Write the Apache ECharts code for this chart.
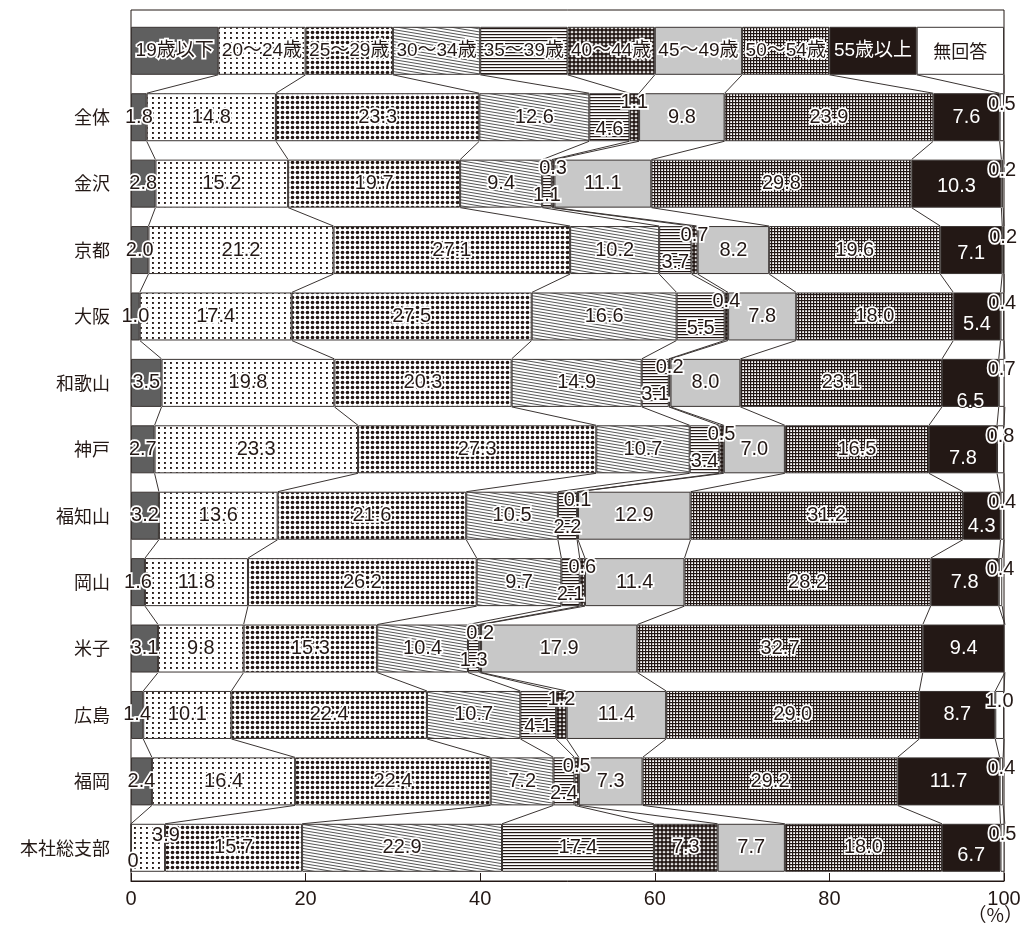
<!DOCTYPE html>
<html><head><meta charset="utf-8">
<script src="https://cdn.jsdelivr.net/npm/echarts@6/dist/echarts.min.js"></script>
<style>html,body{margin:0;padding:0;background:#fff}#c{width:1026px;height:938px}</style>
</head><body><div id="c"></div>
<script>
// ---------------- data ----------------
const categories = ['全体','金沢','京都','大阪','和歌山','神戸','福知山','岡山','米子','広島','福岡','本社総支部'];
const seriesNames = ['19歳以下','20～24歳','25～29歳','30～34歳','35～39歳','40～44歳','45～49歳','50～54歳','55歳以上','無回答'];
const age19    = [1.8, 2.8, 2.0, 1.0, 3.5, 2.7, 3.2, 1.6, 3.1, 1.4, 2.4, 0];
const age20    = [14.8,15.2,21.2,17.4,19.8,23.3,13.6,11.8, 9.8,10.1,16.4, 3.9];
const age25    = [23.3,19.7,27.1,27.5,20.3,27.3,21.6,26.2,15.3,22.4,22.4,15.7];
const age30    = [12.6, 9.4,10.2,16.6,14.9,10.7,10.5, 9.7,10.4,10.7, 7.2,22.9];
const age35    = [4.6, 1.1, 3.7, 5.5, 3.1, 3.4, 2.2, 2.1, 1.3, 4.1, 2.4,17.4];
const age40    = [1.1, 0.3, 0.7, 0.4, 0.2, 0.5, 0.1, 0.6, 0.2, 1.2, 0.5, 7.3];
const age45    = [9.8,11.1, 8.2, 7.8, 8.0, 7.0,12.9,11.4,17.9,11.4, 7.3, 7.7];
const age50    = [23.9,29.8,19.6,18.0,23.1,16.5,31.2,28.2,32.7,29.0,29.2,18.0];
const age55    = [7.6,10.3, 7.1, 5.4, 6.5, 7.8, 4.3, 7.8, 9.4, 8.7,11.7, 6.7];
const noAnswer = [0.5, 0.2, 0.2, 0.4, 0.7, 0.8, 0.4, 0.4, 0,   1.0, 0.4, 0.5];
const xTickValues = [0, 20, 40, 60, 80, 100];
const unitText = '（%）';
const legendShare = 10; // legend strip: each key drawn as an equal 10% box
const seriesValues = [age19, age20, age25, age30, age35, age40, age45, age50, age55, noAnswer];

// ---------------- styles ----------------
const INK = '#231815';
const LINE = '#3a3432';
function tile(w, h, draw) {
  const c = document.createElement('canvas');
  c.width = w; c.height = h;
  const g = c.getContext('2d');
  g.fillStyle = '#fff'; g.fillRect(0, 0, w, h);
  draw(g);
  return { image: c, repeat: 'repeat' };
}
const fills = [
  '#5f5f5f',
  tile(6, 5, g => { g.fillStyle = INK; g.fillRect(2, 2, 1.9, 1.9); }),
  tile(5, 5, g => { g.fillStyle = INK; g.beginPath(); g.arc(2.5, 2.5, 1.8, 0, Math.PI * 2); g.fill(); }),
  tile(18, 3, g => { g.strokeStyle = '#3f3f3f'; g.lineWidth = 0.9;
    for (const o of [-3, 0, 3]) { g.beginPath(); g.moveTo(0, o); g.lineTo(18, 3 + o); g.stroke(); } }),
  tile(4, 3, g => { g.fillStyle = INK; g.fillRect(0, 1, 4, 1.2); }),
  tile(4, 4, g => { g.fillStyle = INK; g.fillRect(0, 1.5, 4, 1); g.fillRect(1.5, 0, 1, 4);
    g.beginPath(); g.arc(2, 2, 1.85, 0, Math.PI * 2); g.fill(); }),
  '#c8c8c8',
  tile(3, 3, g => { g.fillStyle = INK; g.fillRect(0, 0, 3, 1.2); g.fillRect(0, 0, 1.2, 3); }),
  INK,
  '#ffffff'
];
const rowDy55 = [0, 3, 3, 8, 19, 9, 11, 0, 0, 0, 0, 8];
const NUM_FONT = "'Liberation Sans', Arial, sans-serif";
const JP_FONT = "'Liberation Sans', 'Noto Sans CJK JP', sans-serif";

function makeLabel(s, r, v) {
  const L = {
    show: true, position: 'inside', fontSize: 20, fontFamily: NUM_FONT,
    color: INK, textBorderColor: '#fff', textBorderWidth: 3.5,
    formatter: v === 0 ? '0' : v.toFixed(1)
  };
  if (s === 8) { L.color = '#fff'; L.textBorderColor = INK; L.textBorderWidth = 2; L.offset = [0, rowDy55[r]]; }
  if (s === 9) L.offset = [0, -13];
  if (s === 4 && v < 6) L.offset = [0, 12];
  if (s === 5 && v < 2) L.offset = [0, -15];
  if (r === 11 && s === 0) L.offset = [2, 14];
  if (r === 11 && s === 1) L.offset = [18, -12];
  return L;
}
function legendLabel(s) {
  const L = {
    show: true, position: 'inside', fontSize: 19, fontFamily: JP_FONT,
    color: INK, textBorderColor: '#fff', textBorderWidth: 3.5, formatter: seriesNames[s]
  };
  if (s === 8) { L.color = '#fff'; L.textBorderColor = INK; L.textBorderWidth = 2; }
  if (s === 9) { L.textBorderWidth = 0; L.fontFamily = "'Noto Sans CJK JP', sans-serif"; L.fontSize = 18; }
  return L;
}

// rows: index 0 = legend strip, 1..12 = categories
const rows = [seriesNames.map(() => legendShare)].concat(categories.map((_, r) => seriesValues.map(a => a[r])));
const cums = rows.map(row => { let c = 0; return row.map(v => (c += v)); });
const BAR_W = 48;

const barSeries = seriesNames.map((name, s) => ({
  name, type: 'bar', stack: 'total', xAxisIndex: 1, yAxisIndex: 1,
  barWidth: BAR_W, z: 2,
  itemStyle: { color: fills[s], borderColor: LINE, borderWidth: 1 },
  data: [{ value: legendShare, label: legendLabel(s) }].concat(
    seriesValues[s].map((v, r) => ({ value: v, label: makeLabel(s, r, v) })))
}));

const connectorSeries = {
  type: 'custom', xAxisIndex: 1, yAxisIndex: 1, z: 1, silent: true,
  data: rows.slice(0, -1).map((_, i) => [0, i]),
  encode: { x: 0, y: 1 },
  renderItem(params, api) {
    const i = api.value(1);
    const half = BAR_W / 2;
    return {
      type: 'group',
      children: cums[i].map((cA, j) => {
        const p1 = api.coord([cA, i]);
        const p2 = api.coord([cums[i + 1][j], i + 1]);
        return { type: 'line', shape: { x1: p1[0], y1: p1[1] + half, x2: p2[0], y2: p2[1] - half },
                 style: { stroke: LINE, lineWidth: 1 } };
      })
    };
  }
};

const chart = echarts.init(document.getElementById('c'), null, { renderer: 'canvas' });
chart.setOption({
  animation: false,
  backgroundColor: '#fff',
  title: { text: unitText, right: 3, top: 905, padding: 0,
    textStyle: { fontSize: 19, fontWeight: 'normal', fontFamily: "'Noto Sans CJK JP', sans-serif", color: INK } },
  grid: [
    { left: 131, right: 22, top: 10, bottom: 57, show: true, borderColor: INK, borderWidth: 1,
      backgroundColor: 'transparent', containLabel: false, outerBoundsMode: 'none' },
    { left: 131, right: 22, top: 17.6, bottom: 57, containLabel: false, outerBoundsMode: 'none' }
  ],
  xAxis: [
    { gridIndex: 0, type: 'value', show: false, min: 0, max: 100 },
    { gridIndex: 1, type: 'value', min: xTickValues[0], max: xTickValues[xTickValues.length - 1],
      interval: xTickValues[1] - xTickValues[0],
      axisLine: { show: true, lineStyle: { color: INK, width: 1 } },
      axisTick: { show: true, inside: true, length: 8, lineStyle: { color: INK } },
      splitLine: { show: false },
      axisLabel: { fontSize: 20, fontFamily: NUM_FONT, color: INK, margin: 8 } }
  ],
  yAxis: [
    { gridIndex: 0, type: 'value', show: false },
    { gridIndex: 1, type: 'category', inverse: true, data: [''].concat(categories),
      axisLine: { show: false }, axisTick: { show: false },
      axisLabel: { fontSize: 18, fontFamily: "'Noto Sans CJK JP', sans-serif", color: INK, margin: 21 } }
  ],
  series: barSeries.concat([connectorSeries])
});
</script>
</body></html>
